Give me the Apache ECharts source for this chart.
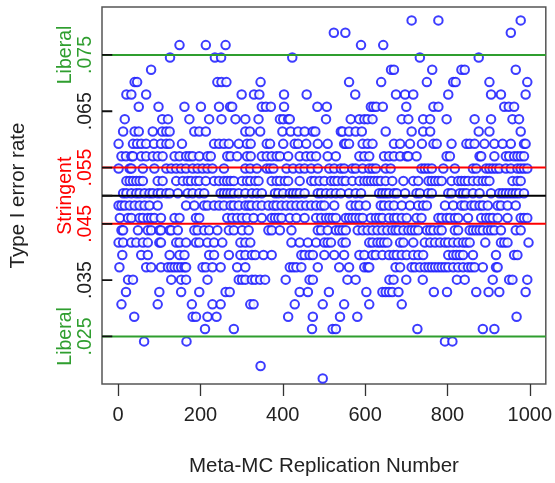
<!DOCTYPE html>
<html>
<head>
<meta charset="utf-8">
<script src="https://cdn.jsdelivr.net/npm/echarts@6/dist/echarts.min.js"></script>
<style>
html,body{margin:0;padding:0;background:#fff;}
#chart{width:555px;height:483px;}
</style>
</head>
<body>
<div id="chart"></div>
<script>
// Type I error rate levels (observed discrete values) and the replications at each level
const rateLevels = [0.08114, 0.07895, 0.07675, 0.07456, 0.07237, 0.07018, 0.06798, 0.06579, 0.06360, 0.06140,
  0.05921, 0.05702, 0.05482, 0.05263, 0.05044, 0.04825, 0.04605, 0.04386, 0.04167, 0.03947,
  0.03728, 0.03509, 0.03289, 0.03070, 0.02851, 0.02632, 0.02412, 0.01974, 0.01754];

const reps37 = [713, 778, 978];
const reps36 = [524, 552, 954];
const reps35 = [149, 213, 261, 590, 644];
const reps34 = [126, 235, 250, 423, 733, 876];
const reps33 = [80, 663, 670, 763, 834, 842, 966];
const reps32 = [40, 46, 241, 251, 263, 346, 561, 639, 750, 814, 820, 902, 994];
const reps31 = [20, 32, 68, 300, 330, 343, 403, 458, 576, 675, 697, 717, 802, 906, 930, 990];
const reps30 = [50, 98, 161, 201, 245, 272, 277, 349, 359, 371, 403, 484, 507, 614, 620, 627, 643, 700, 766, 778, 938, 949, 962];
const reps29 = [16, 107, 121, 173, 221, 251, 285, 309, 341, 393, 401, 413, 417, 505, 565, 586, 598, 606, 618, 689, 705, 741, 758, 798, 866, 906, 958, 974];
const reps28 = [12, 40, 50, 84, 107, 117, 125, 185, 197, 213, 309, 320, 345, 399, 419, 437, 453, 473, 479, 541, 545, 561, 577, 592, 650, 713, 741, 758, 876, 902, 978];
const reps27 = [1, 36, 46, 56, 68, 87, 104, 117, 125, 155, 233, 245, 257, 269, 293, 313, 322, 361, 369, 401, 429, 437, 457, 485, 509, 549, 553, 561, 594, 606, 618, 670, 685, 709, 738, 766, 774, 810, 846, 854, 866, 890, 914, 934, 954, 986, 990];
const reps26 = [8, 19, 32, 36, 56, 68, 84, 96, 108, 137, 149, 165, 173, 181, 197, 217, 225, 265, 273, 289, 313, 322, 349, 361, 373, 385, 393, 413, 441, 457, 469, 481, 509, 529, 586, 598, 610, 646, 658, 670, 685, 701, 705, 725, 798, 806, 878, 882, 914, 942, 950, 962, 970, 978, 986];
const reps25 = [1, 28, 32, 60, 88, 117, 129, 141, 153, 165, 181, 193, 205, 217, 229, 257, 309, 321, 337, 361, 369, 377, 409, 425, 441, 453, 469, 485, 513, 525, 541, 549, 569, 577, 594, 610, 618, 626, 650, 662, 737, 745, 753, 762, 790, 818, 862, 870, 894, 902, 910, 918, 926, 942, 954, 970, 978, 986, 994];
const reps24 = [20, 28, 36, 44, 52, 60, 96, 108, 141, 157, 169, 177, 189, 197, 213, 233, 245, 257, 265, 273, 281, 301, 313, 321, 333, 341, 373, 385, 393, 405, 413, 441, 469, 477, 489, 501, 517, 525, 533, 545, 553, 569, 586, 598, 606, 614, 622, 630, 638, 650, 666, 693, 717, 729, 754, 762, 770, 778, 786, 810, 826, 834, 842, 850, 862, 874, 886, 894, 902, 958, 970, 978];
const reps23 = [12, 20, 32, 44, 52, 64, 76, 84, 96, 104, 117, 125, 145, 169, 181, 197, 209, 249, 257, 265, 273, 281, 293, 309, 325, 337, 349, 381, 389, 401, 417, 425, 433, 441, 453, 485, 493, 505, 517, 529, 541, 561, 577, 590, 634, 642, 650, 658, 670, 677, 697, 725, 733, 753, 762, 802, 810, 830, 838, 846, 862, 878, 906, 926, 934, 942, 950, 958, 966, 974, 986];
const reps22 = [1, 8, 16, 28, 40, 52, 64, 76, 96, 165, 185, 209, 217, 233, 245, 257, 273, 281, 293, 309, 317, 324, 337, 349, 365, 377, 385, 397, 409, 421, 433, 445, 457, 469, 481, 493, 501, 525, 565, 577, 586, 602, 638, 646, 658, 670, 689, 709, 729, 741, 750, 794, 814, 834, 842, 858, 866, 878, 886, 898, 922, 930, 946, 966];
const reps21 = [4, 24, 32, 52, 60, 72, 80, 88, 104, 137, 149, 189, 197, 265, 277, 289, 301, 313, 329, 349, 373, 381, 389, 397, 417, 433, 453, 481, 493, 505, 513, 521, 529, 553, 561, 569, 577, 586, 594, 614, 626, 634, 642, 658, 670, 677, 689, 701, 725, 737, 778, 786, 798, 806, 818, 826, 850, 882, 894, 902, 910, 922, 946, 978, 986, 994];
const reps20 = [8, 12, 48, 72, 80, 100, 104, 125, 129, 145, 185, 193, 209, 221, 241, 269, 281, 301, 317, 365, 373, 393, 421, 485, 493, 509, 529, 537, 545, 553, 582, 594, 606, 618, 630, 642, 654, 666, 674, 681, 693, 705, 713, 721, 729, 750, 758, 766, 778, 786, 818, 826, 854, 862, 870, 878, 886, 898, 906, 914, 930, 966, 978];
const reps19 = [1, 12, 32, 44, 60, 72, 100, 104, 141, 149, 165, 189, 197, 217, 233, 253, 297, 309, 321, 421, 441, 461, 481, 501, 509, 517, 545, 553, 610, 618, 630, 638, 646, 654, 685, 693, 717, 745, 758, 770, 782, 794, 802, 814, 826, 838, 846, 854, 892, 930, 938, 946, 997];
const reps18 = [10, 56, 72, 125, 149, 161, 221, 233, 269, 297, 309, 325, 333, 353, 373, 445, 453, 465, 473, 501, 525, 549, 586, 598, 618, 626, 642, 658, 669, 677, 689, 701, 717, 729, 741, 802, 814, 822, 830, 838, 862, 918, 962, 970];
const reps17 = [3, 68, 80, 104, 121, 129, 137, 145, 153, 161, 165, 205, 213, 229, 249, 289, 309, 417, 425, 433, 445, 485, 537, 561, 598, 606, 610, 674, 685, 713, 721, 733, 745, 754, 762, 770, 778, 786, 794, 802, 814, 826, 838, 850, 858, 866, 886, 918, 922];
const reps16 = [24, 36, 129, 153, 165, 217, 293, 301, 309, 325, 333, 345, 357, 407, 465, 473, 557, 577, 659, 669, 700, 740, 823, 842, 910, 950, 958, 994];
const reps15 = [19, 100, 153, 197, 261, 271, 441, 461, 512, 603, 642, 650, 658, 666, 681, 767, 799, 870, 900, 926, 990];
const reps14 = [8, 96, 179, 229, 249, 321, 329, 429, 497, 549, 610, 689];
const reps13 = [39, 181, 189, 217, 239, 413, 473, 539, 581, 968];
const reps12 = [211, 281, 471, 521, 529, 727, 886, 914];
const reps11 = [63, 166, 794, 812];
const reps9 = [346];
const reps8 = [497];

const repsByLevel = [reps37, reps36, reps35, reps34, reps33, reps32, reps31, reps30, reps29, reps28,
  reps27, reps26, reps25, reps24, reps23, reps22, reps21, reps20, reps19, reps18,
  reps17, reps16, reps15, reps14, reps13, reps12, reps11, reps9, reps8];

// Criterion lines
const liberalBounds = [0.025, 0.075];
const stringentBounds = [0.045, 0.055];
const nominalAlpha = 0.05;

const xTicks = [0, 200, 400, 600, 800, 1000];
const yTicks = [0.025, 0.035, 0.045, 0.05, 0.055, 0.065, 0.075];
const yTickText = ['.025', '.035', '.045', '', '.055', '.065', '.075'];

const X_MIN = -39.3, X_MAX = 1039;
const Y_MIN = 0.01655, Y_MAX = 0.08352;
const Y_TICK_LEN = 25; // inward tick length, in x-axis units

const GREEN = '#2f9e2f';
const RED = '#ff0000';
const FONT = 'Liberation Sans, Arial, sans-serif';

const points = [];
rateLevels.forEach((r, i) => repsByLevel[i].forEach(x => points.push([x, r])));

function yLabel(v) {
  const i = yTicks.findIndex(t => Math.abs(t - v) < 1e-9);
  if (i < 0) return '';
  const t = yTickText[i];
  if (Math.abs(v - nominalAlpha) < 1e-9) return '{r|Stringent}\n{e| }';
  if (liberalBounds.some(b => Math.abs(b - v) < 1e-9)) return '{g|Liberal}\n{g|' + t + '}';
  if (stringentBounds.some(b => Math.abs(b - v) < 1e-9)) return '{e| }\n{r|' + t + '}';
  return '{e| }\n{k|' + t + '}';
}

function hLine(y, color) {
  return {
    type: 'line', data: [[X_MIN, y], [X_MAX, y]], symbol: 'none', silent: true,
    lineStyle: {color: color, width: 2}, z: 4, animation: false
  };
}

// inward y tick marks drawn as short segments from the left edge of the plot
const yTickSegments = [];
yTicks.forEach(v => { yTickSegments.push([X_MIN, v], [X_MIN + Y_TICK_LEN, v], null); });
// build as pairs with gaps (null breaks the polyline)
const yTickSeries = {
  type: 'line', data: yTickSegments.map(p => p === null ? '-' : p), connectNulls: false,
  symbol: 'none', silent: true, clip: false, z: 10, zlevel: 1, animation: false,
  lineStyle: {color: '#111', width: 1.8}
};

const chart = echarts.init(document.getElementById('chart'), null, {renderer: 'canvas'});
chart.setOption({
  animation: false,
  backgroundColor: '#fff',
  grid: {left: 102, right: 6, top: 7, bottom: 99, show: true, borderColor: '#555', borderWidth: 1.5, backgroundColor: 'transparent'},
  xAxis: {
    type: 'value', min: X_MIN, max: X_MAX,
    name: 'Meta-MC Replication Number', nameLocation: 'middle', nameGap: 72,
    nameTextStyle: {fontFamily: FONT, fontSize: 20.5, color: '#222'},
    axisLine: {show: false, onZero: false},
    axisTick: {show: true, customValues: xTicks, length: 12, lineStyle: {color: '#333', width: 1.3}},
    axisLabel: {customValues: xTicks, margin: 21, fontFamily: FONT, fontSize: 20, color: '#222', formatter: v => String(v)},
    splitLine: {show: false}
  },
  yAxis: {
    type: 'value', min: Y_MIN, max: Y_MAX, position: 'left',
    name: 'Type I error rate', nameLocation: 'middle', nameGap: 73, nameRotate: 90,
    nameTextStyle: {fontFamily: FONT, fontSize: 20.5, color: '#222'},
    axisLine: {show: false, onZero: false},
    axisTick: {show: false},
    axisLabel: {
      customValues: yTicks, rotate: 90, margin: 6, formatter: yLabel,
      rich: {
        g: {color: GREEN, fontFamily: FONT, fontSize: 19.5, lineHeight: 20},
        r: {color: RED, fontFamily: FONT, fontSize: 19.5, lineHeight: 20},
        k: {color: '#222', fontFamily: FONT, fontSize: 19.5, lineHeight: 20},
        e: {fontFamily: FONT, fontSize: 19.5, lineHeight: 20}
      }
    },
    splitLine: {show: false}
  },
  series: [
    {
      type: 'scatter',
      data: points,
      symbol: 'emptyCircle',
      symbolSize: 8.5,
      itemStyle: {color: '#1a1aff', borderColor: '#1a1aff', borderWidth: 1, opacity: 0.85},
      z: 2
    },
    hLine(nominalAlpha, '#000'),
    hLine(liberalBounds[0], GREEN),
    hLine(liberalBounds[1], GREEN),
    hLine(stringentBounds[0], RED),
    hLine(stringentBounds[1], RED),
    yTickSeries
  ]
});
</script>
</body>
</html>
